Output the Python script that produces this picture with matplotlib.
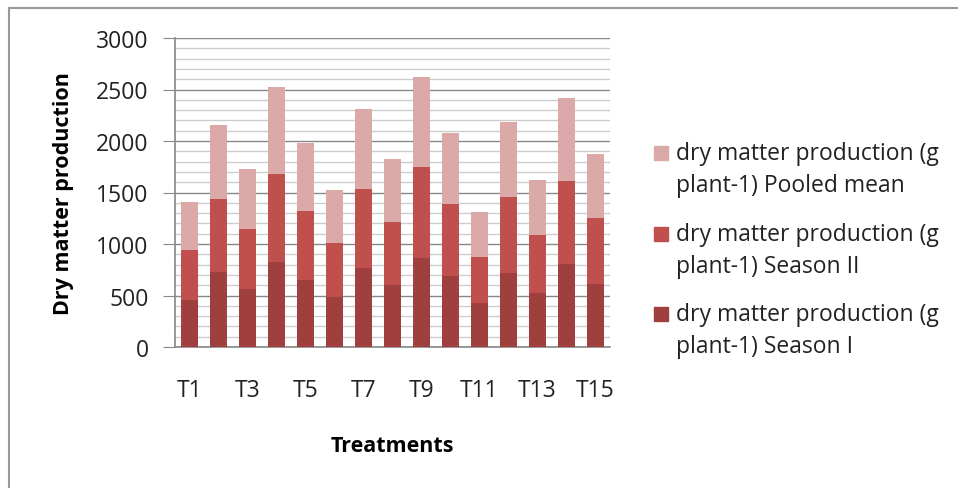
import matplotlib.pyplot as plt
from matplotlib.lines import Line2D
from matplotlib.patches import Rectangle

treatments = ["T%d" % i for i in range(1, 16)]
season1 = [461, 724, 562, 825, 649, 487, 763, 601, 864, 688, 425, 714, 526, 802, 614]
season2 = [477, 711, 587, 850, 676, 526, 773, 613, 886, 698, 448, 747, 562, 809, 636]
pooled = [471, 724, 575, 848, 659, 510, 773, 611, 870, 695, 436, 721, 535, 811, 620]

labels = ["dry matter production (g\nplant-1) Season I",
          "dry matter production (g\nplant-1) Season II",
          "dry matter production (g\nplant-1) Pooled mean"]
colors = ["#9f3f3e", "#c0504d", "#daa9a8"]

plt.rcParams['font.family'] = ['Open Sans', 'DejaVu Sans']

W, H = 958, 489
fig = plt.figure(figsize=(W / 100, H / 100), dpi=100)
ax = fig.add_axes([175 / W, (H - 348) / H, (610 - 175) / W, (348 - 39) / H])

x = list(range(len(treatments)))
ax.bar(x, season1, 0.56, color=colors[0], zorder=3)
ax.bar(x, season2, 0.56, bottom=season1, color=colors[1], zorder=3)
bottom3 = [a + b for a, b in zip(season1, season2)]
ax.bar(x, pooled, 0.56, bottom=bottom3, color=colors[2], zorder=3)

ax.set_xlim(-0.5, len(treatments) - 0.5)
ax.set_ylim(0, 3000)
ax.set_yticks(range(0, 3001, 500))
ax.set_yticks(range(0, 3001, 100), minor=True)
ax.grid(axis='y', which='major', color='#888888', linewidth=1.0, zorder=0)
ax.grid(axis='y', which='minor', color='#cccccc', linewidth=1.0, zorder=0)

ax.set_xticks(x[::2])
ax.set_xticklabels(treatments[::2])
ax.tick_params(axis='x', length=0, pad=22, labelsize=16.5, colors='#222222')
ax.tick_params(axis='y', which='major', length=9, color='#888888', pad=10,
               labelsize=16.5, labelcolor='#222222')
ax.tick_params(axis='y', which='minor', length=0)

for s in ['top', 'right']:
    ax.spines[s].set_visible(False)
for s in ['left', 'bottom']:
    ax.spines[s].set_color('#888888')
    ax.spines[s].set_linewidth(1.2)

ax.set_ylabel("Dry matter production", fontsize=15.5, fontweight='bold', labelpad=16)
ax.set_xlabel("Treatments", fontsize=15.5, fontweight='bold', labelpad=24)

# legend drawn by hand: swatch aligned with the first line of each entry
legend_rows = [154, 235, 315]
for row, lab, col in zip(legend_rows, labels[::-1], colors[::-1]):
    fig.add_artist(Rectangle((654 / W, 1 - (row + 7) / H), 14 / W, 14 / H,
                             transform=fig.transFigure, color=col))
    fig.text(676 / W, 1 - (row - 12) / H, lab, fontsize=16.5, color='#222222',
             va='top', ha='left', linespacing=1.45)

fig.add_artist(Line2D([9 / W, 9 / W], [0, 1 - 9 / H], transform=fig.transFigure,
                      color='#999999', linewidth=1.5))
fig.add_artist(Line2D([9 / W, 1], [1 - 9 / H, 1 - 9 / H], transform=fig.transFigure,
                      color='#999999', linewidth=1.5))

fig.savefig("out.png", dpi=100)
